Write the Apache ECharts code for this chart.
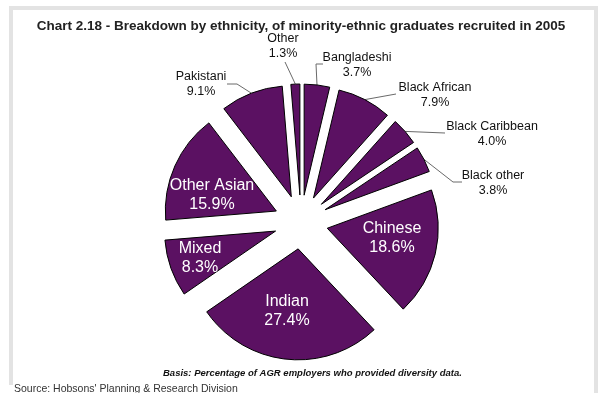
<!DOCTYPE html>
<html>
<head>
<meta charset="utf-8">
<script src="https://cdn.jsdelivr.net/npm/echarts@6/dist/echarts.min.js"></script>
<style>
  html, body { margin: 0; padding: 0; background: #fff; }
  #chart { width: 602px; height: 393px; }
</style>
</head>
<body>
<div id="chart"></div>
<script>
// Ethnic groups, clockwise from twelve o'clock
const categories = ['Bangladeshi', 'Black African', 'Black Caribbean', 'Black other', 'Chinese',
                    'Indian', 'Mixed', 'Other Asian', 'Pakistani', 'Other'];
// Share of minority-ethnic graduates recruited (%)
const shares = [3.7, 7.9, 4.0, 3.8, 18.6, 27.4, 8.3, 15.9, 9.1, 1.3];
// Groups whose label sits inside the slice
const insideGroups = ['Chinese', 'Indian', 'Mixed', 'Other Asian'];

// Label placement: centre of the text block and leader-line bend/end points
const labelPlacement = {
  'Bangladeshi':     { x: 357, y: 65, line: [[316, 64], [323, 64]] },
  'Black African':   { x: 435, y: 95, line: [[396, 94]] },
  'Black Caribbean': { x: 492, y: 134, line: [[445, 133]] },
  'Black other':     { x: 493, y: 183, line: [[453, 182], [462, 182]] },
  'Pakistani':       { x: 201, y: 84, line: [[237, 84], [227, 84]] },
  'Other':           { x: 283, y: 46, line: [[285, 62]] },
  'Chinese':         { x: 392, y: 238 },
  'Indian':          { x: 287, y: 311 },
  'Mixed':           { x: 200, y: 258 },
  'Other Asian':     { x: 212, y: 195 }
};

const PURPLE = '#5B1162';
const CX = 301, CY = 222, R = 111, EXPLODE = 27;
const FONT = '"Liberation Sans", Arial, sans-serif';

// Mid-angle of every slice, clockwise from the top, used to pull it out from the centre
const total = shares.reduce((a, b) => a + b, 0);
const midAngles = [];
shares.reduce((acc, v) => { midAngles.push((acc + v / 2) / total * 2 * Math.PI); return acc + v; }, 0);

// One pie layer per group: the group's own slice is drawn, the rest stay empty,
// and the layer is shifted outward along the slice's mid-angle.
const series = categories.map((name, i) => {
  const a = midAngles[i];
  const inside = insideGroups.includes(name);
  return {
    type: 'pie',
    silent: true,
    center: [CX + EXPLODE * Math.sin(a), CY - EXPLODE * Math.cos(a)],
    radius: [0, R],
    startAngle: 90,
    clockwise: true,
    avoidLabelOverlap: false,
    label: {
      fontFamily: FONT,
      overflow: 'none',
      formatter: p => p.name + '\n' + p.value.toFixed(1) + '%'
    },
    labelLine: { lineStyle: { color: '#6a6a6a', width: 1 }, length: 12, length2: 10 },
    labelLayout: function (p) {
      const place = labelPlacement[categories[p.dataIndex]];
      if (!place) return {};
      const out = { x: place.x, y: place.y, align: 'center', verticalAlign: 'middle' };
      if (place.line && p.labelLinePoints) {
        out.labelLinePoints = [p.labelLinePoints[0]].concat(place.line);
      }
      return out;
    },
    data: categories.map((n, j) => j === i
      ? {
          name: n, value: shares[j],
          itemStyle: { color: PURPLE, borderColor: '#000', borderWidth: 1 },
          label: inside
            ? { show: true, position: 'inside', color: '#fff', fontSize: 16, lineHeight: 19 }
            : { show: true, position: 'outside', color: '#111', fontSize: 12.5, lineHeight: 15 },
          labelLine: { show: !inside }
        }
      : {
          name: n, value: shares[j],
          itemStyle: { color: 'rgba(0,0,0,0)', borderWidth: 0 },
          label: { show: false },
          labelLine: { show: false }
        })
  };
});

const chart = echarts.init(document.getElementById('chart'), null, { renderer: 'canvas' });

chart.setOption({
  animation: false,
  backgroundColor: '#fff',
  title: {
    text: 'Chart 2.18 - Breakdown by ethnicity, of minority-ethnic graduates recruited in 2005',
    left: 'center',
    top: 14,
    textStyle: { fontFamily: FONT, fontSize: 13.5, fontWeight: 'bold', color: '#222' }
  },
  graphic: [
    { type: 'polyline', silent: true,
      shape: { points: [[11, 385], [11, 8], [596, 8], [596, 393]] },
      style: { stroke: '#e3e3e3', lineWidth: 4, fill: null } },
    { type: 'text', left: 163, top: 368,
      style: { text: 'Basis: Percentage of AGR employers who provided diversity data.',
               font: 'italic bold 9.5px "Liberation Sans", Arial', fill: '#111' } },
    { type: 'text', left: 14, top: 384,
      style: { text: "Source: Hobsons' Planning & Research Division",
               font: '10.5px "Liberation Sans", Arial', fill: '#333' } }
  ],
  series: series
});
</script>
</body>
</html>
